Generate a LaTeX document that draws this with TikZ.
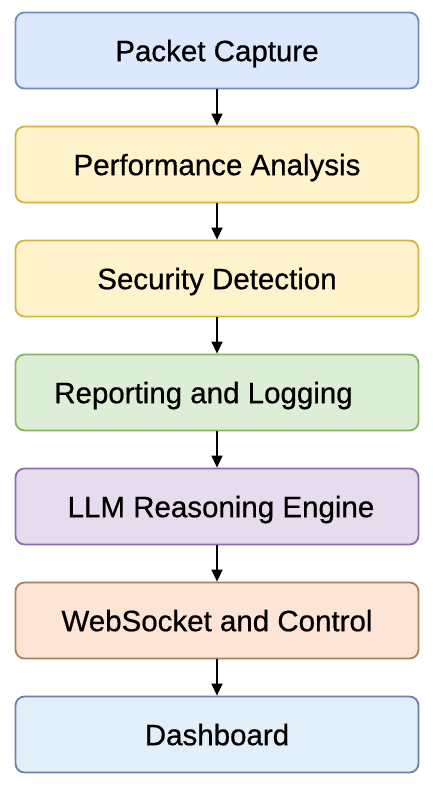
\documentclass[tikz,border=0pt]{standalone}
\usepackage{fontspec}
\setmainfont{Liberation Sans}[FakeBold=0.5]
\usetikzlibrary{arrows.meta}
\definecolor{f1}{HTML}{DCE8FC}\definecolor{s1}{HTML}{6C8EBF}
\definecolor{f2}{HTML}{FFF3CC}\definecolor{s2}{HTML}{D6B245}
\definecolor{f4}{HTML}{DCEFD6}\definecolor{s4}{HTML}{86B55A}
\definecolor{f5}{HTML}{E7DBEE}\definecolor{s5}{HTML}{8C6BAE}
\definecolor{f6}{HTML}{FDE5D5}\definecolor{s6}{HTML}{A8825E}
\definecolor{f7}{HTML}{E2EEF8}\definecolor{s7}{HTML}{6B82AA}
\tikzset{
  lbl/.style={font=\fontsize{29.5}{33}\selectfont\addfontfeature{FakeBold=0.6}, text depth=0pt},
  stage/.style={draw, line width=1.8pt, rounded corners=9pt, minimum width=403pt, minimum height=76pt, inner sep=0pt, lbl},
  flow/.style={line width=1.5pt, -{Triangle[length=12pt,width=11pt]}}
}
\begin{document}
\begin{tikzpicture}[x=1pt,y=-1pt]
\useasboundingbox (0,0) rectangle (433,786);
\node[stage, fill=f1, draw=s1] (a) at (217,50.5) {Packet Capture};
\node[stage, fill=f2, draw=s2] (b) at (217,164.5) {Performance Analysis};
\node[stage, fill=f2, draw=s2] (c) at (217,278.5) {Security Detection};
\node[stage, fill=f4, draw=s4] (d) at (217,392.5) {};
\node[lbl, inner sep=0pt] (dt) at (203.5,392.5) {Reporting and Logging};
\node[stage, fill=f5, draw=s5] (e) at (217,506.5) {\hspace{8pt}LLM Reasoning Engine};
\node[stage, fill=f6, draw=s6] (f) at (217,620.5) {WebSocket and Control};
\node[stage, fill=f7, draw=s7] (g) at (217,734.5) {Dashboard};
\draw[flow] (a) -- (b);
\draw[flow] (b) -- (c);
\draw[flow] (c) -- (d);
\draw[flow] (d) -- (e);
\draw[flow] (e) -- (f);
\draw[flow] (f) -- (g);
\end{tikzpicture}
\end{document}
